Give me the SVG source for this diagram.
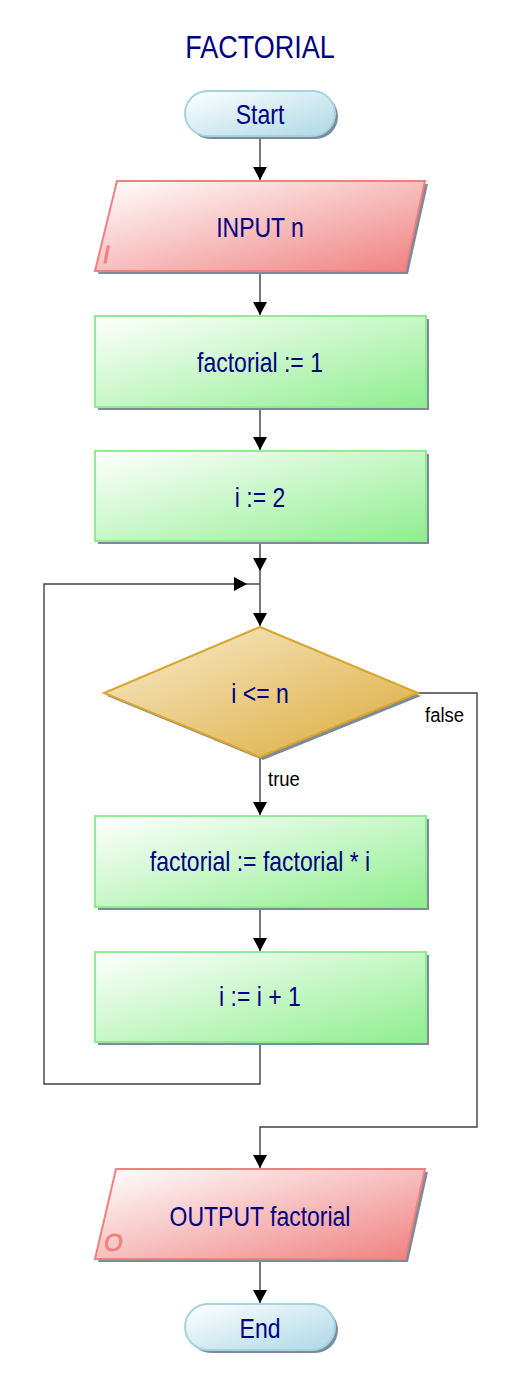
<svg xmlns="http://www.w3.org/2000/svg" width="520" height="1395" viewBox="0 0 520 1395">
<style>
.t{font-family:"Liberation Sans",Arial,sans-serif;fill:#000080;text-anchor:middle;font-size:23px}
.title{font-size:27px}
.lbl{font-family:"Liberation Sans",Arial,sans-serif;fill:#000000;font-size:18.5px}
.mk{font-family:"Liberation Sans",Arial,sans-serif;fill:#f07f80;stroke:#f07f80;stroke-width:0.8;font-style:italic;font-size:24px}
.sh{fill:#7d8a99}
.term{fill:url(#gT);stroke:#a5d3e2;stroke-width:2}
.io{fill:url(#gIO);stroke:#f08080;stroke-width:2}
.proc{fill:url(#gP);stroke:#90ec90;stroke-width:2}
.dec{fill:url(#gD);stroke:#d9a52a;stroke-width:2}
.c{fill:none;stroke:#404040;stroke-width:1.4}
</style>
<defs>
<linearGradient id="gT" x1="0" y1="0" x2="1" y2="1"><stop offset="0" stop-color="#ffffff"/><stop offset="1" stop-color="#add8e6"/></linearGradient>
<linearGradient id="gIO" x1="0" y1="0" x2="1" y2="1"><stop offset="0" stop-color="#ffffff"/><stop offset="1" stop-color="#f08080"/></linearGradient>
<linearGradient id="gP" x1="0" y1="0" x2="1" y2="1"><stop offset="0" stop-color="#ffffff"/><stop offset="1" stop-color="#90ee90"/></linearGradient>
<linearGradient id="gD" x1="0" y1="0" x2="1" y2="1"><stop offset="0" stop-color="#f8ecd0"/><stop offset="1" stop-color="#dcaa38"/></linearGradient>
<marker id="ar" markerUnits="userSpaceOnUse" markerWidth="14" markerHeight="14" refX="13" refY="7" orient="auto"><path d="M0,0 L13,7 L0,14 z" fill="#000"/></marker>
</defs>

<text class="t title" transform="translate(260,58) scale(1,1.18)">FACTORIAL</text>

<g id="connectors">
<path class="c" d="M260,137 V180" marker-end="url(#ar)"/>
<path class="c" d="M260,272 V315" marker-end="url(#ar)"/>
<path class="c" d="M260,407 V450" marker-end="url(#ar)"/>
<path class="c" d="M260,541 V571" marker-end="url(#ar)"/>
<path class="c" d="M260,571 V626" marker-end="url(#ar)"/>
<path class="c" d="M260,1042 V1084 H44 V584 H247" marker-end="url(#ar)"/>
<path class="c" d="M247,584 H260"/>
<path class="c" d="M260,758 V815" marker-end="url(#ar)"/>
<path class="c" d="M260,907 V951" marker-end="url(#ar)"/>
<path class="c" d="M418,693 H477 V1127 H260 V1168" marker-end="url(#ar)"/>
<path class="c" d="M260,1259 V1303" marker-end="url(#ar)"/>
<text class="lbl" transform="translate(425,722) scale(1,1.1)">false</text>
<text class="lbl" transform="translate(268,786) scale(1,1.1)">true</text>
</g>

<g id="start">
<rect class="sh" x="188" y="94" width="150" height="45" rx="22.5"/>
<rect class="term" x="185" y="91" width="150" height="45" rx="22.5"/>
<text class="t" transform="translate(260,124) scale(1,1.18)">Start</text>
</g>

<g id="input">
<polygon class="sh" points="120,184 428,184 408,274 98,274"/>
<polygon class="io" points="117,181 425,181 405,271 95,271"/>
<text class="mk" x="103" y="263">I</text>
<text class="t" transform="translate(260,237) scale(1,1.18)">INPUT n</text>
</g>

<g id="init-factorial">
<rect class="sh" x="98" y="319" width="331" height="91"/>
<rect class="proc" x="95" y="316" width="331" height="91"/>
<text class="t" transform="translate(260,372) scale(1,1.18)">factorial := 1</text>
</g>

<g id="init-i">
<rect class="sh" x="98" y="454" width="331" height="90"/>
<rect class="proc" x="95" y="451" width="331" height="90"/>
<text class="t" transform="translate(260,507) scale(1,1.18)">i := 2</text>
</g>

<g id="decision">
<polygon class="sh" points="263,630 421,696 263,760 107,696"/>
<polygon class="dec" points="260,627 418,693 260,757 104,693"/>
<text class="t" transform="translate(260,703) scale(1,1.18)">i &lt;= n</text>
</g>

<g id="multiply">
<rect class="sh" x="98" y="819" width="331" height="91"/>
<rect class="proc" x="95" y="816" width="331" height="91"/>
<text class="t" transform="translate(260,871) scale(1,1.18)">factorial := factorial * i</text>
</g>

<g id="increment">
<rect class="sh" x="98" y="955" width="331" height="90"/>
<rect class="proc" x="95" y="952" width="331" height="90"/>
<text class="t" transform="translate(260,1006) scale(1,1.18)">i := i + 1</text>
</g>

<g id="output">
<polygon class="sh" points="119,1172 428,1172 408,1262 98,1262"/>
<polygon class="io" points="116,1169 425,1169 405,1259 95,1259"/>
<text class="mk" x="104" y="1251">O</text>
<text class="t" transform="translate(260,1226) scale(1,1.18)">OUTPUT factorial</text>
</g>

<g id="end">
<rect class="sh" x="188" y="1307" width="150" height="46" rx="23"/>
<rect class="term" x="185" y="1304" width="150" height="46" rx="23"/>
<text class="t" transform="translate(260,1338) scale(1,1.18)">End</text>
</g>
</svg>
